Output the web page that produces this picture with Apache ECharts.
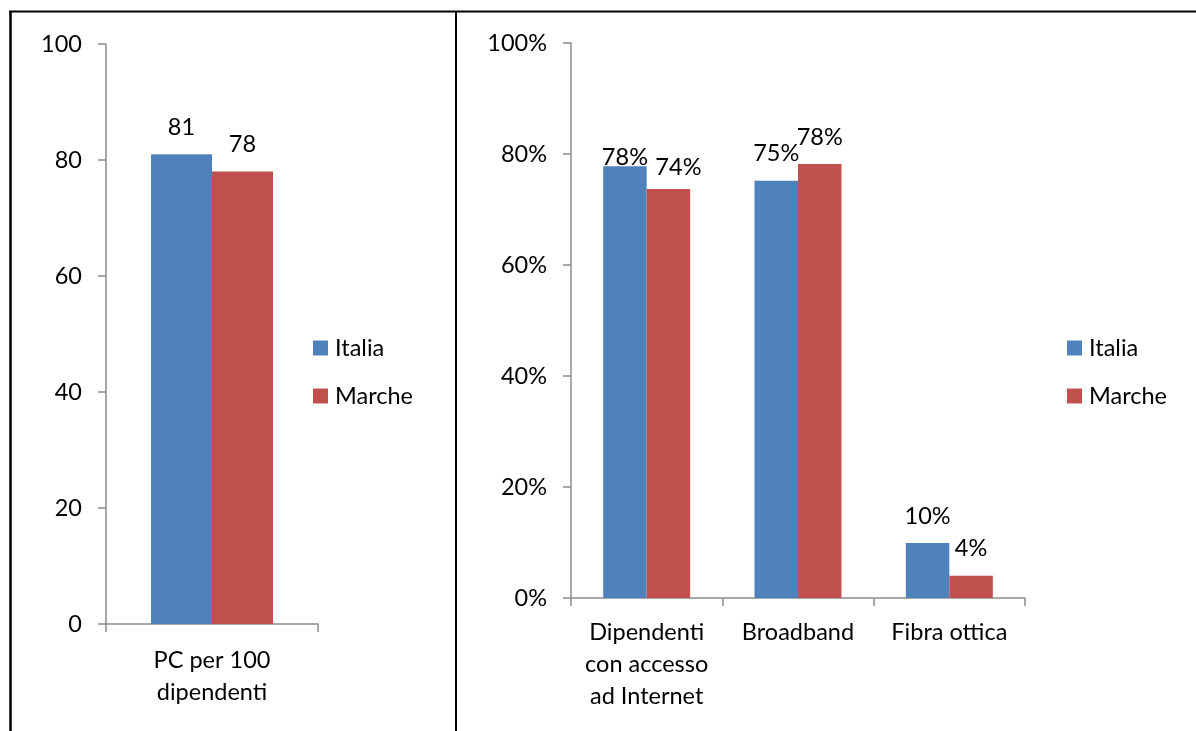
<!DOCTYPE html>
<html>
<head>
<meta charset="utf-8">
<script src="https://cdn.jsdelivr.net/npm/echarts@6/dist/echarts.min.js"></script>
<style>
html,body{margin:0;padding:0;background:#fff;}
#c{width:1196px;height:731px;}
</style>
</head>
<body>
<div id="c"></div>
<script>
// ---- data ----
const seriesNames = ['Italia', 'Marche'];
const leftCategories = ['PC per 100\ndipendenti'];
const leftItalia = [81];
const leftMarche = [78];
const leftTicks = [0, 20, 40, 60, 80, 100];
const rightCategories = ['Dipendenti\ncon accesso\nad Internet', 'Broadband', 'Fibra ottica'];
const rightItalia = [77.8, 75.2, 9.9];
const rightMarche = [73.7, 78.2, 4.0];
const rightTicks = [0, 20, 40, 60, 80, 100];

// ---- styling ----
const FONT = 'Lato';
const BLUE = '#4F81BD';
const RED = '#C0504D';
const AXIS = '#8C8C8C';
const FS = 23.5;

const chart = echarts.init(document.getElementById('c'), null, {renderer: 'canvas'});

function axisCommonY(max, interval, fmt) {
  return {
    type: 'value', min: 0, max: max, interval: interval,
    axisLine: {show: true, lineStyle: {color: AXIS, width: 1.5}},
    axisTick: {show: true, length: 8, lineStyle: {color: AXIS, width: 1.5}},
    splitLine: {show: false},
    axisLabel: {color: '#000', fontFamily: FONT, fontSize: FS, margin: 24, formatter: fmt}
  };
}
function axisCommonX(cats, margin) {
  return {
    type: 'category', data: cats,
    axisLine: {show: true, lineStyle: {color: AXIS, width: 1.5}},
    axisTick: {show: true, length: 8, interval: 0, alignWithLabel: false, lineStyle: {color: AXIS, width: 1.5}},
    axisLabel: {color: '#000', fontFamily: FONT, fontSize: FS, lineHeight: 32, margin: margin, interval: 0}
  };
}
const labelBase = {show: true, position: 'top', distance: 15, color: '#000', fontFamily: FONT, fontSize: FS};

// per-item label adjustments (right chart), indexed by category
const rightItaliaLabelAdj = [{distance: -3}, {}, {}];
const rightMarcheLabelAdj = [{distance: 10, offset: [10, 0]}, {}, {}];

function withAdj(values, adj) {
  return values.map((v, i) => Object.keys(adj[i]).length ? {value: v, label: adj[i]} : v);
}

const option = {
  backgroundColor: '#fff',
  animation: false,
  grid: [
    {left: 106, width: 212, top: 44, height: 580},
    {left: 571, width: 454, top: 43, height: 555}
  ],
  xAxis: [
    Object.assign(axisCommonX(leftCategories, 20), {gridIndex: 0}),
    Object.assign(axisCommonX(rightCategories, 18), {gridIndex: 1})
  ],
  yAxis: [
    Object.assign(axisCommonY(leftTicks[leftTicks.length - 1], leftTicks[1] - leftTicks[0], '{value}'), {gridIndex: 0}),
    Object.assign(axisCommonY(rightTicks[rightTicks.length - 1], rightTicks[1] - rightTicks[0], '{value}%'), {gridIndex: 1})
  ],
  legend: [
    {
      orient: 'vertical', left: 308, top: 331, itemWidth: 15, itemHeight: 15, itemGap: 24,
      icon: 'rect', data: seriesNames,
      textStyle: {fontFamily: FONT, fontSize: FS, color: '#000', padding: [0, 0, 0, 2]}
    },
    {
      orient: 'vertical', left: 1062, top: 331, itemWidth: 15, itemHeight: 15, itemGap: 24,
      icon: 'rect', data: seriesNames,
      textStyle: {fontFamily: FONT, fontSize: FS, color: '#000', padding: [0, 0, 0, 2]}
    }
  ],
  series: [
    {name: seriesNames[0], type: 'bar', xAxisIndex: 0, yAxisIndex: 0, data: leftItalia,
     barWidth: 61, barGap: '0%', itemStyle: {color: BLUE},
     label: Object.assign({}, labelBase, {formatter: p => Math.round(p.value)})},
    {name: seriesNames[1], type: 'bar', xAxisIndex: 0, yAxisIndex: 0, data: leftMarche,
     barWidth: 61, barGap: '0%', itemStyle: {color: RED},
     label: Object.assign({}, labelBase, {formatter: p => Math.round(p.value)})},
    {name: seriesNames[0], type: 'bar', xAxisIndex: 1, yAxisIndex: 1, data: withAdj(rightItalia, rightItaliaLabelAdj),
     barWidth: 43.5, barGap: '0%', itemStyle: {color: BLUE},
     label: Object.assign({}, labelBase, {formatter: p => Math.round(p.value) + '%'})},
    {name: seriesNames[1], type: 'bar', xAxisIndex: 1, yAxisIndex: 1, data: withAdj(rightMarche, rightMarcheLabelAdj),
     barWidth: 43.5, barGap: '0%', itemStyle: {color: RED},
     label: Object.assign({}, labelBase, {formatter: p => Math.round(p.value) + '%'})}
  ],
  graphic: [
    {type: 'line', shape: {x1: 9, y1: 11.5, x2: 1196, y2: 11.5}, style: {stroke: '#000', lineWidth: 2}},
    {type: 'line', shape: {x1: 10.5, y1: 11, x2: 10.5, y2: 731}, style: {stroke: '#000', lineWidth: 2.5}},
    {type: 'line', shape: {x1: 456, y1: 11, x2: 456, y2: 731}, style: {stroke: '#000', lineWidth: 2}}
  ]
};
chart.setOption(option);
</script>
</body>
</html>
